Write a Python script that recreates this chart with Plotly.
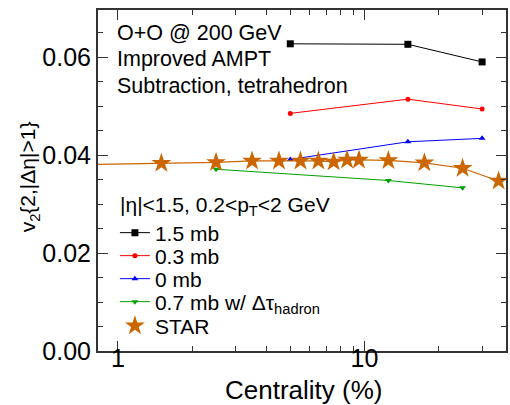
import numpy as np
import plotly.graph_objects as go

# Data
cent_ampt = [5, 15, 30]
v2_15mb = [0.0627, 0.0626, 0.0590]
v2_03mb = [0.0485, 0.0514, 0.0494]
v2_0mb = [0.0391, 0.0427, 0.0434]

cent_green = [2.5, 12.5, 25]
v2_07mb = [0.0371, 0.0348, 0.0333]

cent_star = [0.5, 1.5, 2.5, 3.5, 4.5, 5.5, 6.5, 7.5, 8.5, 9.5, 12.5, 17.5, 25, 35]
v2_star = [0.0379, 0.0383, 0.0385, 0.0388, 0.0388, 0.0388, 0.0388, 0.0386, 0.0390,
           0.0390, 0.0389, 0.0384, 0.0373, 0.0347]

legend_names = ["1.5 mb", "0.3 mb", "0 mb", "0.7 mb w/ Δτ<sub>hadron</sub>", "STAR"]

FONT = "Liberation Sans, Arial, sans-serif"
STARC = "#cc6600"
LEGSZ = 21

PH = 341.0
PW = 410.0


def py(yy):
    return 1 - (yy - 10) / PH


def px(xx):
    return (xx - 98) / PW


fig = go.Figure()
fig.add_trace(go.Scatter(x=cent_ampt, y=v2_15mb, mode="lines+markers", name=legend_names[0],
                         legend="legend",
                         line=dict(color="black", width=1),
                         marker=dict(symbol="square", size=7, color="black")))
fig.add_trace(go.Scatter(x=cent_ampt, y=v2_03mb, mode="lines+markers", name=legend_names[1],
                         legend="legend2",
                         line=dict(color="#ff0000", width=1),
                         marker=dict(symbol="circle", size=5, color="#ff0000")))
fig.add_trace(go.Scatter(x=cent_ampt, y=v2_0mb, mode="lines+markers", name=legend_names[2],
                         legend="legend3",
                         line=dict(color="#0000ff", width=1),
                         marker=dict(symbol="triangle-up", size=6, color="#0000ff")))
fig.add_trace(go.Scatter(x=cent_green, y=v2_07mb, mode="lines+markers",
                         name=legend_names[3], legend="legend4",
                         line=dict(color="#00a000", width=1),
                         marker=dict(symbol="triangle-down", size=6, color="#00a000")))
fig.add_trace(go.Scatter(x=cent_star, y=v2_star, mode="lines", showlegend=False,
                         line=dict(color=STARC, width=1.2)))
fig.add_trace(go.Scatter(x=cent_star, y=v2_star, mode="markers", name=legend_names[4],
                         legend="legend5",
                         marker=dict(symbol="star", size=15, color=STARC)))

axis_common = dict(showline=True, linecolor="#333333", linewidth=2, mirror="ticks",
                   ticks="inside", ticklen=10, tickwidth=1, tickcolor="#333333",
                   showgrid=False, zeroline=False,
                   tickfont=dict(size=25, color="black", family=FONT))

minor_x = [2, 3, 4, 5, 6, 7, 8, 9, 20, 30]
fig.update_xaxes(type="log", range=[np.log10(0.83), np.log10(37.5)],
                 tickvals=[1, 10], ticktext=["1", "10"], ticklabelstandoff=-16,
                 minor=dict(tickvals=minor_x, ticks="inside", ticklen=5, tickcolor="#333333"),
                 **axis_common)
fig.update_yaxes(range=[0, 0.0696], tickvals=[0, 0.02, 0.04, 0.06],
                 ticktext=["0.00", "0.02", "0.04", "0.06"],
                 minor=dict(dtick=0.005, tick0=0, ticks="inside", ticklen=5, tickcolor="#333333"),
                 **axis_common)

# axis titles
fig.add_annotation(text="Centrality (%)", xref="paper", yref="paper",
                   x=px(305), y=py(390), xanchor="center", yanchor="middle",
                   showarrow=False, font=dict(size=26, family=FONT, color="black"))
fig.add_annotation(text="v<sub>2</sub>{2,|Δη|>1}", xref="paper", yref="paper",
                   x=px(29), y=py(177), xanchor="center", yanchor="middle", textangle=-90,
                   showarrow=False, font=dict(size=21, family=FONT, color="black"))

for txt, yy in [("O+O @ 200 GeV", 33), ("Improved AMPT", 59), ("Subtraction, tetrahedron", 86)]:
    fig.add_annotation(text=txt, xref="paper", yref="paper",
                       x=px(115), y=py(yy),
                       xanchor="left", yanchor="middle", showarrow=False,
                       font=dict(size=21.5, family=FONT, color="black"))

fig.add_annotation(text="|η|&lt;1.5, 0.2&lt;p<sub>T</sub>&lt;2 GeV", xref="paper", yref="paper",
                   x=px(118), y=py(206), xanchor="left", yanchor="middle", showarrow=False,
                   font=dict(size=21, family=FONT, color="black"))

legend_rows = [233, 256, 279, 302, 326]
leg_layout = {}
for i, yy in enumerate(legend_rows):
    key = "legend" if i == 0 else "legend%d" % (i + 1)
    leg_layout[key] = dict(x=px(115), y=py(yy), xanchor="left", yanchor="middle",
                           bgcolor="rgba(0,0,0,0)", borderwidth=0,
                           font=dict(size=LEGSZ, family=FONT, color="black"),
                           itemwidth=30)

fig.update_layout(
    width=510, height=405,
    margin=dict(l=98, r=2, t=10, b=54),
    paper_bgcolor="white", plot_bgcolor="white",
    font=dict(family=FONT, color="black"),
    showlegend=True,
    **leg_layout,
)

fig.write_html("out.html")
